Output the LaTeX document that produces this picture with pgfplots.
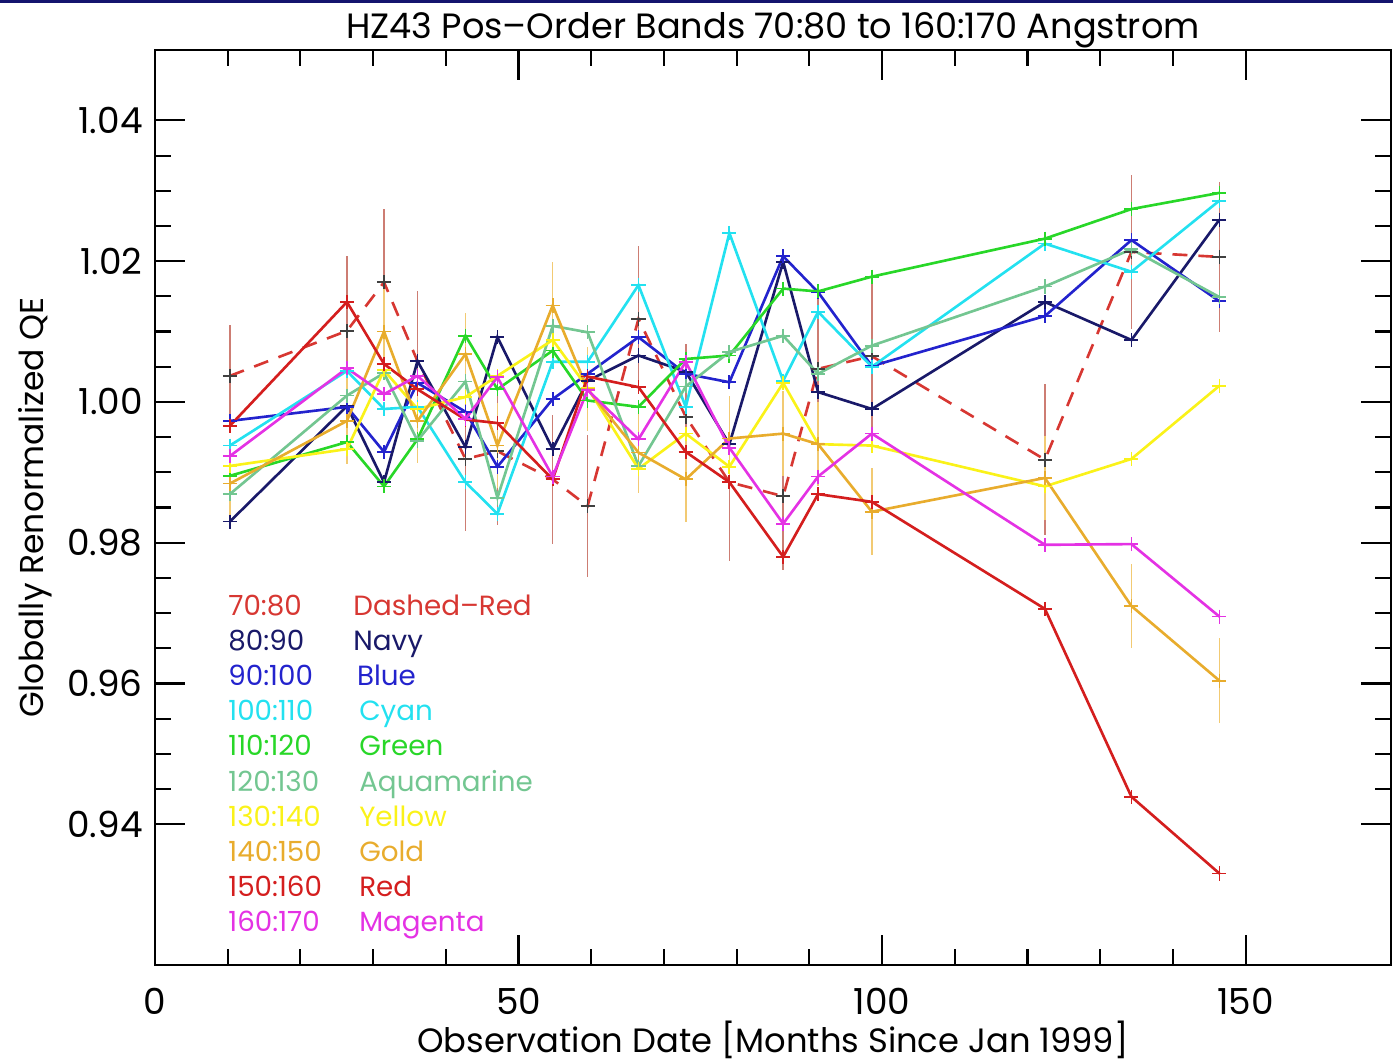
\documentclass[border=0pt]{standalone}
\usepackage{pgfplots}
\pgfplotsset{compat=1.18}
\usepackage{pgfplotstable}
\usepackage{fontspec}
\setmainfont{Poppins}

\definecolor{cdred}{RGB}{215,55,50}
\definecolor{cnavy}{RGB}{25,25,105}
\definecolor{cblue}{RGB}{35,35,205}
\definecolor{ccyan}{RGB}{35,225,240}
\definecolor{cgreen}{RGB}{40,215,40}
\definecolor{caqua}{RGB}{115,198,145}
\definecolor{cyellow}{RGB}{250,242,25}
\definecolor{cgold}{RGB}{232,172,45}
\definecolor{cred}{RGB}{212,30,30}
\definecolor{cmag}{RGB}{228,50,228}
\definecolor{cerrd}{RGB}{205,125,115}
\definecolor{cerrg}{RGB}{242,202,115}
\definecolor{cbar}{RGB}{20,20,110}

% x, dashed(70:80), its error, navy, blue, cyan, green, aquamarine, yellow, gold, gold error, red, magenta
\pgfplotstableread{
x     d      de     n      b      c      g      a      y      o      oe     r      m
10.3  1.0037 0.0072 0.9830 0.9973 0.9938 0.9895 0.9869 0.9909 0.9884 0.0060 0.9966 0.9923
26.4  1.0101 0.0107 0.9994 0.9993 1.0044 0.9943 1.0009 0.9933 0.9973 0.0061 1.0142 1.0048
31.5  1.0170 0.0104 0.9886 0.9929 0.9990 0.9880 1.0041 1.0045 1.0100 0.0060 1.0054 1.0011
36.1  1.0058 0.0099 1.0058 1.0027 0.9993 0.9947 0.9945 0.9990 0.9973 0.0060 1.0018 1.0037
42.7  0.9919 0.0102 0.9936 0.9986 0.9886 1.0094 1.0029 1.0007 1.0068 0.0058 0.9975 0.9976
47.1  0.9930 0.0105 1.0092 0.9908 0.9841 1.0018 0.9864 1.0037 0.9938 0.0060 0.9970 1.0035
54.7  0.9890 0.0092 0.9933 1.0004 1.0057 1.0073 1.0108 1.0088 1.0137 0.0062 0.9890 0.9894
59.5  0.9852 0.0101 1.0030 1.0040 1.0057 1.0002 1.0099 1.0020 1.0018 0.0060 1.0036 1.0017
66.5  1.0118 0.0104 1.0066 1.0092 1.0166 0.9993 0.9909 0.9905 0.9928 0.0057 1.0021 0.9947
73.0  0.9979 0.0104 1.0043 1.0040 0.9993 1.0061 1.0022 0.9955 0.9890 0.0060 0.9929 1.0057
79.0  0.9886 0.0112 0.9940 1.0028 1.0240 1.0066 1.0071 0.9908 0.9948 0.0060 0.9886 0.9935
86.4  0.9866 0.0105 1.0199 1.0207 1.0030 1.0161 1.0094 1.0027 0.9955 0.0060 0.9780 0.9827
91.2  1.0047 0.0120 1.0014 1.0156 1.0128 1.0157 1.0040 0.9940 0.9940 0.0060 0.9869 0.9894
98.6  1.0065 0.0110 0.9990 1.0051 1.0050 1.0178 1.0080 0.9938 0.9844 0.0062 0.9858 0.9955
122.4 0.9918 0.0107 1.0142 1.0122 1.0225 1.0232 1.0164 0.9880 0.9892 0.0060 0.9706 0.9797
134.3 1.0213 0.0110 1.0088 1.0230 1.0185 1.0274 1.0217 0.9919 0.9710 0.0060 0.9439 0.9798
146.4 1.0206 0.0107 1.0259 1.0143 1.0286 1.0297 1.0149 1.0023 0.9604 0.0060 0.9330 0.9695
}\datatable

\begin{document}
\begin{tikzpicture}
\path[use as bounding box] (-15.5mm,-9.6mm) rectangle (123.8mm,96.5mm);
\fill[cbar] (-15.5mm,96.2mm) rectangle (123.8mm,96.5mm);
\begin{axis}[
  at={(0,0)}, anchor=south west,
  scale only axis, width=123.6mm, height=91.5mm,
  xmin=0, xmax=170, ymin=0.92, ymax=1.05,
  xtick={0,50,100,150}, minor x tick num=4,
  ytick={0.94,0.96,0.98,1.00,1.02,1.04}, minor y tick num=3,
  yticklabel style={/pgf/number format/.cd,fixed,fixed zerofill,precision=2},
  /pgf/number format/assume math mode=true,
  tick align=inside,
  major tick length=3mm, minor tick length=1.6mm,
  every tick/.style={black, line width=0.6pt},
  axis line style={line width=0.8pt},
  tick label style={font=\fontsize{10.2}{12}\selectfont},
  xticklabel style={anchor=base, yshift=-4.9mm},
  title={HZ43 Pos\textendash Order Bands 70:80 to 160:170 Angstrom},
  every axis title shift=0pt,
  title style={font=\fontsize{10}{12}\selectfont, at={(0.5,1)}, anchor=base, yshift=1.2mm},
  xlabel={Observation Date [Months Since Jan 1999]},
  ylabel={Globally Renormalized QE},
  every axis x label/.style={at={(axis description cs:0.5,-0.0951)}, anchor=base, font=\fontsize{9.6}{12}\selectfont},
  every axis y label/.style={at={(axis description cs:-0.0971,0.5)}, rotate=90, anchor=center, font=\fontsize{9.4}{12}\selectfont},
  clip=false,
  every axis plot/.append style={line width=0.75pt, mark=+, mark size=2pt, mark options={solid, line width=0.5pt}},
]
% error bars
\addplot[draw=none, mark=none, error bars/.cd, y dir=both, y explicit, error mark=none,
  error bar style={cerrd, line width=0.45pt}] table[x=x, y=d, y error=de] {\datatable};
\addplot[draw=none, mark=none, error bars/.cd, y dir=both, y explicit, error mark=none,
  error bar style={cerrg, line width=0.45pt}] table[x=x, y=o, y error=oe] {\datatable};
% series
\addplot[cdred, dash pattern=on 1.5mm off 1.1mm, mark options={solid, black!75, line width=0.5pt}] table[x=x, y=d] {\datatable};
\addplot[cnavy] table[x=x, y=n] {\datatable};
\addplot[cblue] table[x=x, y=b] {\datatable};
\addplot[ccyan] table[x=x, y=c] {\datatable};
\addplot[cgreen] table[x=x, y=g] {\datatable};
\addplot[caqua] table[x=x, y=a] {\datatable};
\addplot[cyellow] table[x=x, y=y] {\datatable};
\addplot[cgold] table[x=x, y=o] {\datatable};
\addplot[cred] table[x=x, y=r] {\datatable};
\addplot[cmag] table[x=x, y=m] {\datatable};
% legend text
\begin{scope}[every node/.style={anchor=base west, inner sep=0pt, font=\fontsize{7.9}{10}\selectfont}]
\node[text=cdred]   at (axis cs:10.0,0.9697) {70:80};
\node[text=cdred]   at (axis cs:27.2,0.9697) {Dashed\textendash Red};
\node[text=cnavy]   at (axis cs:10.0,0.9647) {80:90};
\node[text=cnavy]   at (axis cs:27.2,0.9647) {Navy};
\node[text=cblue]   at (axis cs:10.0,0.9597) {90:100};
\node[text=cblue]   at (axis cs:27.7,0.9597) {Blue};
\node[text=ccyan]   at (axis cs:10.0,0.9547) {100:110};
\node[text=ccyan]   at (axis cs:28.0,0.9547) {Cyan};
\node[text=cgreen]  at (axis cs:10.0,0.9497) {110:120};
\node[text=cgreen]  at (axis cs:28.0,0.9497) {Green};
\node[text=caqua]   at (axis cs:10.0,0.9447) {120:130};
\node[text=caqua]   at (axis cs:28.0,0.9447) {Aquamarine};
\node[text=cyellow] at (axis cs:10.0,0.9397) {130:140};
\node[text=cyellow] at (axis cs:28.0,0.9397) {Yellow};
\node[text=cgold]   at (axis cs:10.0,0.9347) {140:150};
\node[text=cgold]   at (axis cs:28.0,0.9347) {Gold};
\node[text=cred]    at (axis cs:10.0,0.9297) {150:160};
\node[text=cred]    at (axis cs:28.0,0.9297) {Red};
\node[text=cmag]    at (axis cs:10.0,0.9247) {160:170};
\node[text=cmag]    at (axis cs:28.0,0.9247) {Magenta};
\end{scope}
\end{axis}
\end{tikzpicture}
\end{document}
